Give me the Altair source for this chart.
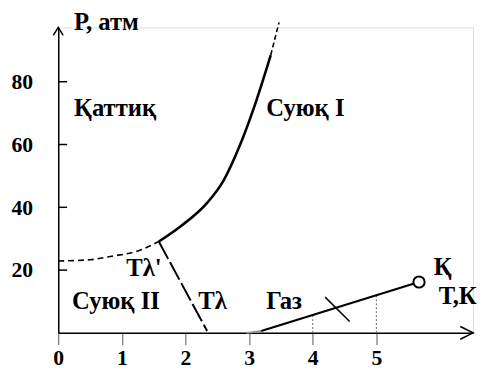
import altair as alt
import pandas as pd

# ---- data ----
dashed_T = [0.0, 0.5, 0.84, 1.25, 1.58]
dashed_P = [22.9, 23.3, 24.4, 26.1, 29.1]
melt_T = [1.58, 1.92, 2.34, 2.6, 2.85, 3.08, 3.34]
melt_P = [29.1, 33.9, 41.4, 48.6, 59.5, 72.0, 88.5]
melt_top_T = [3.34, 3.47]
melt_top_P = [88.5, 98.9]
lambda_T = [1.58, 2.34]
lambda_P = [29.1, 0.6]
vapor_T = [3.19, 5.67]
vapor_P = [0.6, 16.2]
vapor_start_T = [2.96, 3.19]
vapor_start_P = [0.0, 0.6]
cross_T = [4.195, 4.58]
cross_P = [11.4, 3.6]
crit_T = [5.67]
crit_P = [16.2]
drop_T = [4, 5]
drop_P = [5.7, 12.0]
x_ticks = [0, 1, 2, 3, 4, 5]
y_ticks = [20, 40, 60, 80]
label_text = ["Р, атм", "Қаттиқ", "Суюқ I", "Тλ'", "Суюқ II", "Тλ", "Газ", "Қ", "Т,К"]
label_T = [0.248, 0.248, 3.27, 1.07, 0.217, 2.2, 3.27, 5.90, 5.98]
label_P = [96.4, 69.0, 69.0, 18.1, 7.76, 7.76, 7.76, 18.4, 9.3]

X_MAX = 6.52
Y_MAX = 97.3
FONT = "Liberation Serif"
FS = 25
NUM_FS = 22

xs = alt.Scale(domain=[0, X_MAX], nice=False, zero=False)
ys = alt.Scale(domain=[0, Y_MAX], nice=False, zero=False)

x_axis = alt.Axis(values=x_ticks, title=None, grid=False, tickSize=12, tickColor="#555",
                  tickWidth=1, labelFont=FONT, labelFontSize=NUM_FS, labelFontWeight="bold",
                  labelColor="black", labelPadding=3, domainColor="black", domainWidth=1.5,
                  labelFlush=False, format="d")
y_axis = alt.Axis(values=y_ticks, title=None, grid=False, ticks=False, tickSize=0,
                  labelFont=FONT, labelFontSize=NUM_FS, labelFontWeight="bold",
                  labelColor="black", labelPadding=26, domainColor="black", domainWidth=1.5,
                  format="d")


def X():
    return alt.X("T:Q", scale=xs, axis=x_axis)


def Y(field="P:Q"):
    return alt.Y(field, scale=ys, axis=y_axis)


def df(T, P):
    return pd.DataFrame({"T": T, "P": P, "i": list(range(len(T)))})


base_axes = alt.Chart(df([0, X_MAX], [0, Y_MAX])).mark_point(opacity=0).encode(
    x=X(), y=Y())

ytick_layer = alt.Chart(pd.DataFrame({"P": y_ticks})).mark_rule(color="black", strokeWidth=1.5).encode(
    y=Y(), x=alt.value(0), x2=alt.value(9))

drop_df = pd.DataFrame({"T": drop_T, "P0": [0, 0], "P": drop_P})
drop_layer = alt.Chart(drop_df).mark_rule(color="#666", strokeWidth=1, strokeDash=[2, 2]).encode(
    x=X(), y=Y("P0:Q"), y2="P:Q")


def line(T, P, **kw):
    return alt.Chart(df(T, P)).mark_line(color="black", **kw).encode(x=X(), y=Y(), order="i:Q")


dashed_layer = line(dashed_T, dashed_P, strokeWidth=1.6, strokeDash=[6, 4], interpolate="monotone")
melt_layer = line(melt_T, melt_P, strokeWidth=2.6, interpolate="monotone")
melt_top_layer = line(melt_top_T, melt_top_P, strokeWidth=1.6, strokeDash=[5, 3])
lambda_layer = line(lambda_T, lambda_P, strokeWidth=2, strokeDash=[20, 4])
vapor_layer = line(vapor_T, vapor_P, strokeWidth=2.2)
vapor_start_layer = alt.Chart(df(vapor_start_T, vapor_start_P)).mark_line(
    color="#999", strokeWidth=2).encode(x=X(), y=Y(), order="i:Q")
cross_layer = line(cross_T, cross_P, strokeWidth=1.6)

crit_layer = alt.Chart(df(crit_T, crit_P)).mark_point(
    shape="circle", size=130, filled=True, fill="white", stroke="black", strokeWidth=2,
    opacity=1).encode(x=X(), y=Y())

xarrow = alt.Chart(df([X_MAX], [0])).mark_point(
    shape="M-1,-0.5L0,0L-1,0.5", size=676, filled=False, stroke="black", strokeWidth=1.5,
    opacity=1).encode(x=X(), y=Y())
yarrow = alt.Chart(df([0], [Y_MAX])).mark_point(
    shape="M-0.625,1L0,0L0.625,1", size=256, filled=False, stroke="black", strokeWidth=1.5,
    opacity=1).encode(x=X(), y=Y())

lab_df = pd.DataFrame({"T": label_T, "P": label_P, "t": label_text})
label_layer = alt.Chart(lab_df).mark_text(
    font=FONT, fontSize=FS, fontWeight="bold", align="left", baseline="alphabetic",
    color="black").encode(x=X(), y=Y(), text="t:N")

chart = alt.layer(
    base_axes, ytick_layer, drop_layer, dashed_layer, melt_layer, melt_top_layer,
    lambda_layer, vapor_start_layer, vapor_layer, cross_layer, crit_layer,
    xarrow, yarrow, label_layer
).properties(
    width=421, height=310,
    autosize=alt.AutoSizeParams(type="none"),
    padding={"left": 51, "top": 17, "right": 6, "bottom": 36},
).configure_view(stroke=None).configure(background="white")

chart.save("out.html", embed_options={"renderer": "svg", "actions": False})
